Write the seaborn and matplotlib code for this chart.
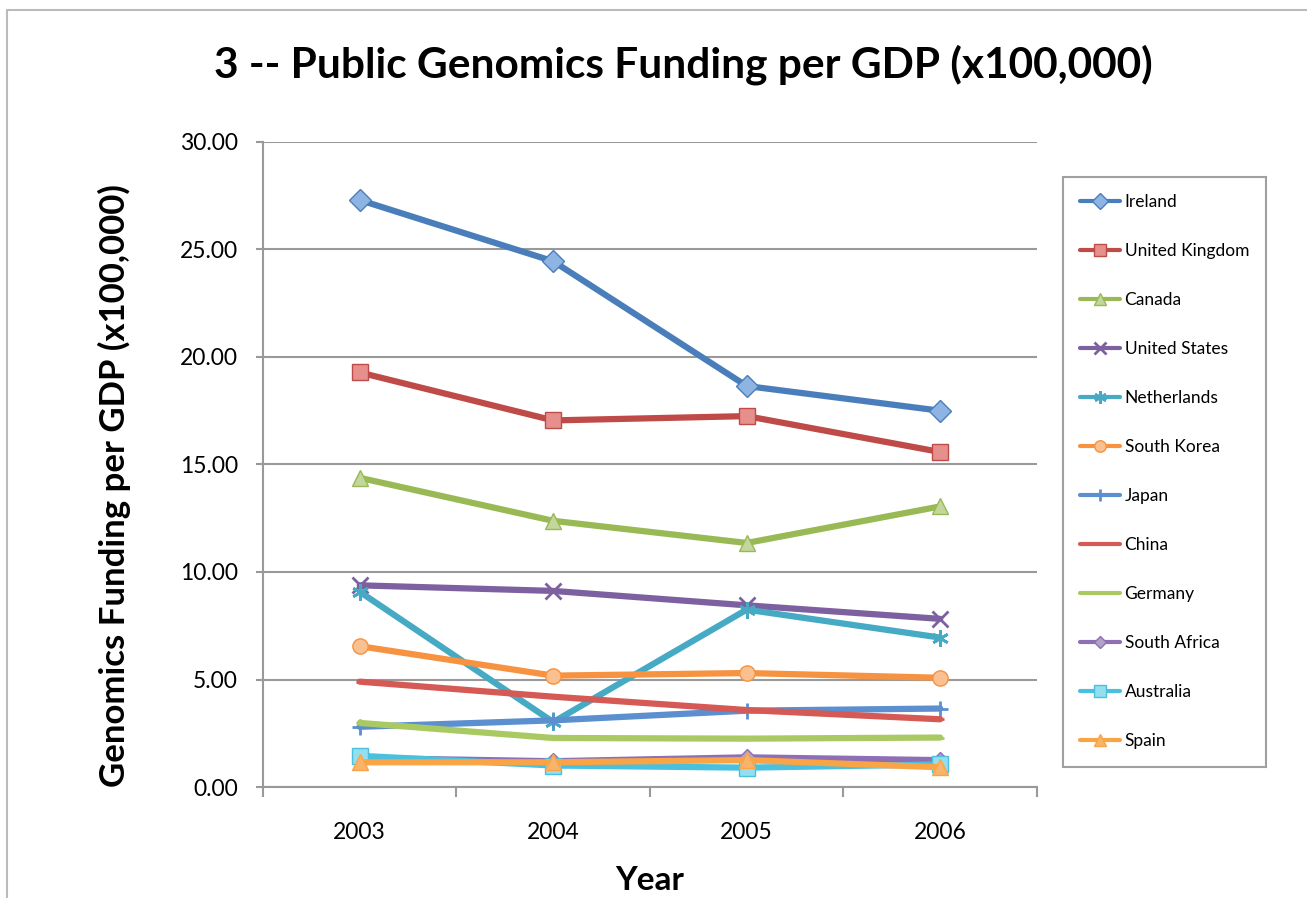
#!/usr/bin/env python3
"""Public genomics funding per GDP, line chart in the Excel 2007 style."""

import pandas as pd
import seaborn as sns
import matplotlib.pyplot as plt
from matplotlib.lines import Line2D

# Data
years = ["2003", "2004", "2005", "2006"]
countries = [
    "Ireland", "United Kingdom", "Canada", "United States", "Netherlands",
    "South Korea", "Japan", "China", "Germany", "South Africa", "Australia", "Spain",
]
ireland = [27.30, 24.45, 18.65, 17.50]
united_kingdom = [19.28, 17.05, 17.25, 15.58]
canada = [14.38, 12.38, 11.35, 13.05]
united_states = [9.38, 9.12, 8.45, 7.82]
netherlands = [9.08, 3.02, 8.25, 6.95]
south_korea = [6.55, 5.18, 5.30, 5.08]
japan = [2.80, 3.10, 3.55, 3.65]
china = [4.90, 4.20, 3.58, 3.15]
germany = [2.98, 2.28, 2.25, 2.30]
south_africa = [1.35, 1.20, 1.38, 1.25]
australia = [1.45, 1.00, 0.90, 1.05]
spain = [1.15, 1.15, 1.25, 0.92]

series = [ireland, united_kingdom, canada, united_states, netherlands, south_korea,
          japan, china, germany, south_africa, australia, spain]

line_colors = ["#4A7EBB", "#BE4B48", "#98B954", "#7D60A0", "#46AAC5", "#F69240",
               "#5B8FD0", "#D55A55", "#A9CA63", "#8E6FB5", "#4BC0DE", "#F9A445"]
fill_colors = ["#8EB4E3", "#E6908D", "#C3D69B", "#B3A2C7", "#93CDDD", "#FAC090",
               "#5B8FD0", "#D55A55", "#A9CA63", "#B3A2C7", "#93DFF0", "#FAB36A"]
markers = ["D", "s", "^", "x", (6, 2, 0), "o", "+", "_", "_", "D", "s", "^"]
marker_sizes = [11, 11, 11, 11, 12, 11, 11, 6, 6, 8, 11, 11]

df = pd.DataFrame(
    [(c, y, v) for c, vals in zip(countries, series) for y, v in zip(years, vals)],
    columns=["country", "year", "value"],
)

sns.set_theme(style="white")
plt.rcParams["font.family"] = ["Lato", "DejaVu Sans"]
plt.rcParams["text.color"] = "black"

fig = plt.figure(figsize=(13.07, 8.98), dpi=100)
ax = fig.add_axes([0.2012, 0.1236, 0.5922, 0.7183])

for i, c in enumerate(countries):
    sub = df[df["country"] == c]
    sns.lineplot(
        data=sub, x="year", y="value", ax=ax, color=line_colors[i],
        marker=markers[i], markersize=marker_sizes[i], linewidth=4.5, errorbar=None,
        label=c, zorder=3 + i * 0.01,
    )
    ln = ax.lines[-1]
    ln.set_markerfacecolor(fill_colors[i])
    ln.set_markeredgecolor(line_colors[i])
    stroke = markers[i] in ("x", "+", "_") or isinstance(markers[i], tuple)
    ln.set_markeredgewidth(2.0 if stroke else 1.0)
    ln.set_solid_capstyle("round")

ax.set_ylim(0, 30)
ax.set_xlim(-0.5, 3.5)
ax.set_yticks(range(0, 31, 5))
ax.set_yticklabels([f"{t:.2f}" for t in range(0, 31, 5)])
ax.set_xticks(range(len(years)))
ax.set_xticklabels(years)
ax.set_xticks([-0.5, 0.5, 1.5, 2.5, 3.5], minor=True)

grid_col = "#999999"
ax.yaxis.grid(True, color=grid_col, linewidth=1.5)
ax.xaxis.grid(False)
for s in ["top", "right"]:
    ax.spines[s].set_visible(False)
for s in ["left", "bottom"]:
    ax.spines[s].set_color(grid_col)
    ax.spines[s].set_linewidth(1.5)

ax.tick_params(axis="y", which="major", left=True, length=5, width=1.5, color=grid_col,
               pad=13, labelsize=16.5, labelcolor="black")
ax.tick_params(axis="x", which="major", bottom=False, length=0, pad=25, labelsize=16.5,
               labelcolor="black")
ax.tick_params(axis="x", which="minor", bottom=True, length=7, width=1.5, color=grid_col,
               direction="out")

ax.set_xlabel("Year", fontsize=24, fontweight="bold", color="black")
ax.xaxis.set_label_coords(0.5, -0.122)
ax.set_ylabel("Genomics Funding per GDP (x100,000)", fontsize=25, fontweight="bold",
              color="black")
ax.yaxis.set_label_coords(-0.171, 0.468)

fig.text(0.5226, 0.9276, "3 -- Public Genomics Funding per GDP (x100,000)",
         ha="center", va="center", fontsize=30.5, fontweight="bold", color="black")

handles = ax.get_lines()[: len(countries)]
leg = ax.legend(
    handles, countries, loc="upper left", bbox_to_anchor=(0.8133, 0.8029),
    bbox_transform=fig.transFigure, borderaxespad=0, fontsize=12.5,
    labelspacing=1.9, handlelength=2.3, handletextpad=0.25, borderpad=1.0,
    frameon=True, fancybox=False, markerscale=0.75,
)
leg.get_frame().set_edgecolor("#888888")
leg.get_frame().set_linewidth(1.5)
for lh in leg.get_lines():
    lh.set_linewidth(3)
for t in leg.get_texts():
    t.set_color("black")

# outer chart-area border
fig.add_artist(Line2D([0.0054, 1.0], [1 - 10 / 898, 1 - 10 / 898], color="#bbbbbb",
                      linewidth=1.5, transform=fig.transFigure))
fig.add_artist(Line2D([0.0054, 0.0054], [0.0, 1 - 10 / 898], color="#bbbbbb",
                      linewidth=1.5, transform=fig.transFigure))

fig.savefig("out.png", dpi=100)
